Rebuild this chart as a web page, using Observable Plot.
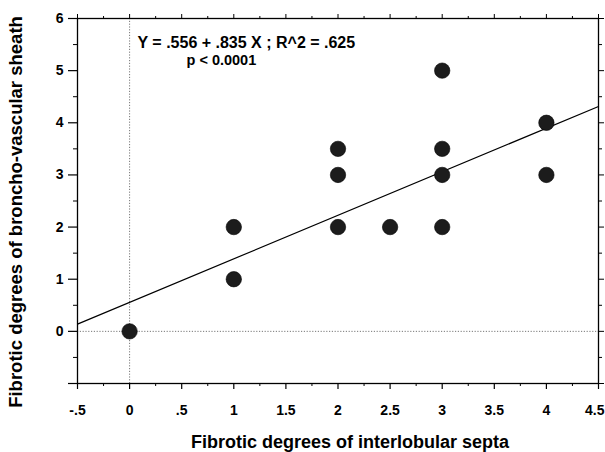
<!DOCTYPE html>
<html>
<head>
<meta charset="utf-8">
<script src="https://cdn.jsdelivr.net/npm/d3@7"></script>
<script src="https://cdn.jsdelivr.net/npm/@observablehq/plot@0.6"></script>
<style>
  html, body { margin: 0; padding: 0; background: white; }
</style>
</head>
<body>
<div id="chart"></div>
<script>
// Data
const septa  = [0, 1, 1, 2, 2, 2,   2.5, 3, 3, 3,   3, 4, 4];
const sheath = [0, 1, 2, 2, 3, 3.5, 2,   2, 3, 3.5, 5, 3, 4];

// Regression reported on the chart
const intercept = 0.556;
const slope = 0.835;
const fitX = [-0.5, 4.5];

const annotation1 = "Y = .556 + .835 X ; R^2 = .625";
const annotation2 = "p < 0.0001";

const xTitle = "Fibrotic degrees of interlobular septa";
const yTitle = "Fibrotic degrees of broncho-vascular sheath";

const xMajor = [-0.5, 0, 0.5, 1, 1.5, 2, 2.5, 3, 3.5, 4, 4.5];
const xTickLabels = ["-.5", "0", ".5", "1", "1.5", "2", "2.5", "3", "3.5", "4", "4.5"];
const xMinor = [-0.25, 0.25, 0.75, 1.25, 1.75, 2.25, 2.75, 3.25, 3.75, 4.25];
const yMajor = [-1, 0, 1, 2, 3, 4, 5, 6];
const yTickLabels = ["", "0", "1", "2", "3", "4", "5", "6"];
const yMinor = [-0.5, 0.5, 1.5, 2.5, 3.5, 4.5, 5.5];

const points = septa.map((x, i) => ({x, y: sheath[i]}));
const fit = fitX.map(x => ({x, y: intercept + slope * x}));
const xLabels = xMajor.map((x, i) => ({x, label: xTickLabels[i]}));
const lastX = xMajor[xMajor.length - 1];

const font = "'Liberation Sans', Arial, Helvetica, sans-serif";

const chart = Plot.plot({
  width: 605,
  height: 452,
  marginLeft: 77,
  marginRight: 7,
  marginTop: 18,
  marginBottom: 69,
  x: {domain: [-0.5, 4.5]},
  y: {domain: [-1, 6]},
  style: {fontFamily: font, fontWeight: "bold", fontSize: "14px", background: "white", color: "black", overflow: "visible"},
  marks: [
    // dotted reference lines at zero
    Plot.ruleX([0], {stroke: "#777", strokeDasharray: "1.2,1.6", strokeWidth: 1}),
    Plot.ruleY([0], {stroke: "#777", strokeDasharray: "1.2,1.6", strokeWidth: 1}),
    // bottom axis ticks
    Plot.axisX({ticks: xMajor, tickSize: 6, text: null, label: null, strokeWidth: 1.2}),
    Plot.axisX({ticks: xMinor, tickSize: 3, text: null, label: null}),
    // bottom tick labels (last one kept inside the page)
    Plot.text(xLabels.filter(d => d.x !== lastX), {x: "x", text: "label", frameAnchor: "bottom", dy: 22, lineAnchor: "top", textAnchor: "middle", fontSize: 14, fontWeight: "bold"}),
    Plot.text(xLabels.filter(d => d.x === lastX), {x: "x", text: "label", frameAnchor: "bottom", dy: 22, dx: 6, lineAnchor: "top", textAnchor: "end", fontSize: 14, fontWeight: "bold"}),
    // top axis ticks
    Plot.axisX({anchor: "top", ticks: xMajor, tickSize: 5, text: null, label: null}),
    Plot.axisX({anchor: "top", ticks: xMinor, tickSize: 3, text: null, label: null}),
    // left axis
    Plot.axisY({ticks: yMajor, tickSize: 9, tickPadding: 5, tickFormat: d => yTickLabels[yMajor.indexOf(d)], label: null, strokeWidth: 1.2}),
    Plot.axisY({ticks: yMinor, tickSize: 4, text: null, label: null}),
    // right axis ticks
    Plot.axisY({anchor: "right", ticks: yMajor, tickSize: 5, text: null, label: null}),
    Plot.axisY({anchor: "right", ticks: yMinor, tickSize: 3, text: null, label: null}),
    Plot.frame({stroke: "black", strokeWidth: 1.3}),
    // regression line
    Plot.line(fit, {x: "x", y: "y", stroke: "black", strokeWidth: 1.2}),
    // observations
    Plot.dot(points, {x: "x", y: "y", r: 7.7, fill: "#1c1c1c", stroke: "#000", strokeWidth: 0.6}),
    // annotation
    Plot.text([annotation1], {x: 0.076, y: 5.44, text: d => d, textAnchor: "start", lineAnchor: "bottom", fontSize: 16, fontWeight: "bold"}),
    Plot.text([annotation2], {x: 0.546, y: 5.11, text: d => d, textAnchor: "start", lineAnchor: "bottom", fontSize: 14.5, fontWeight: "bold"}),
    // axis titles
    Plot.text([xTitle], {frameAnchor: "bottom", text: d => d, dx: 12, dy: 64, textAnchor: "middle", lineAnchor: "bottom", fontSize: 18, fontWeight: "bold"}),
    Plot.text([yTitle], {frameAnchor: "left", text: d => d, rotate: -90, dx: -56, dy: 11, textAnchor: "middle", lineAnchor: "bottom", fontSize: 18.5, fontWeight: "bold"})
  ]
});

document.getElementById("chart").appendChild(chart);
</script>
</body>
</html>
